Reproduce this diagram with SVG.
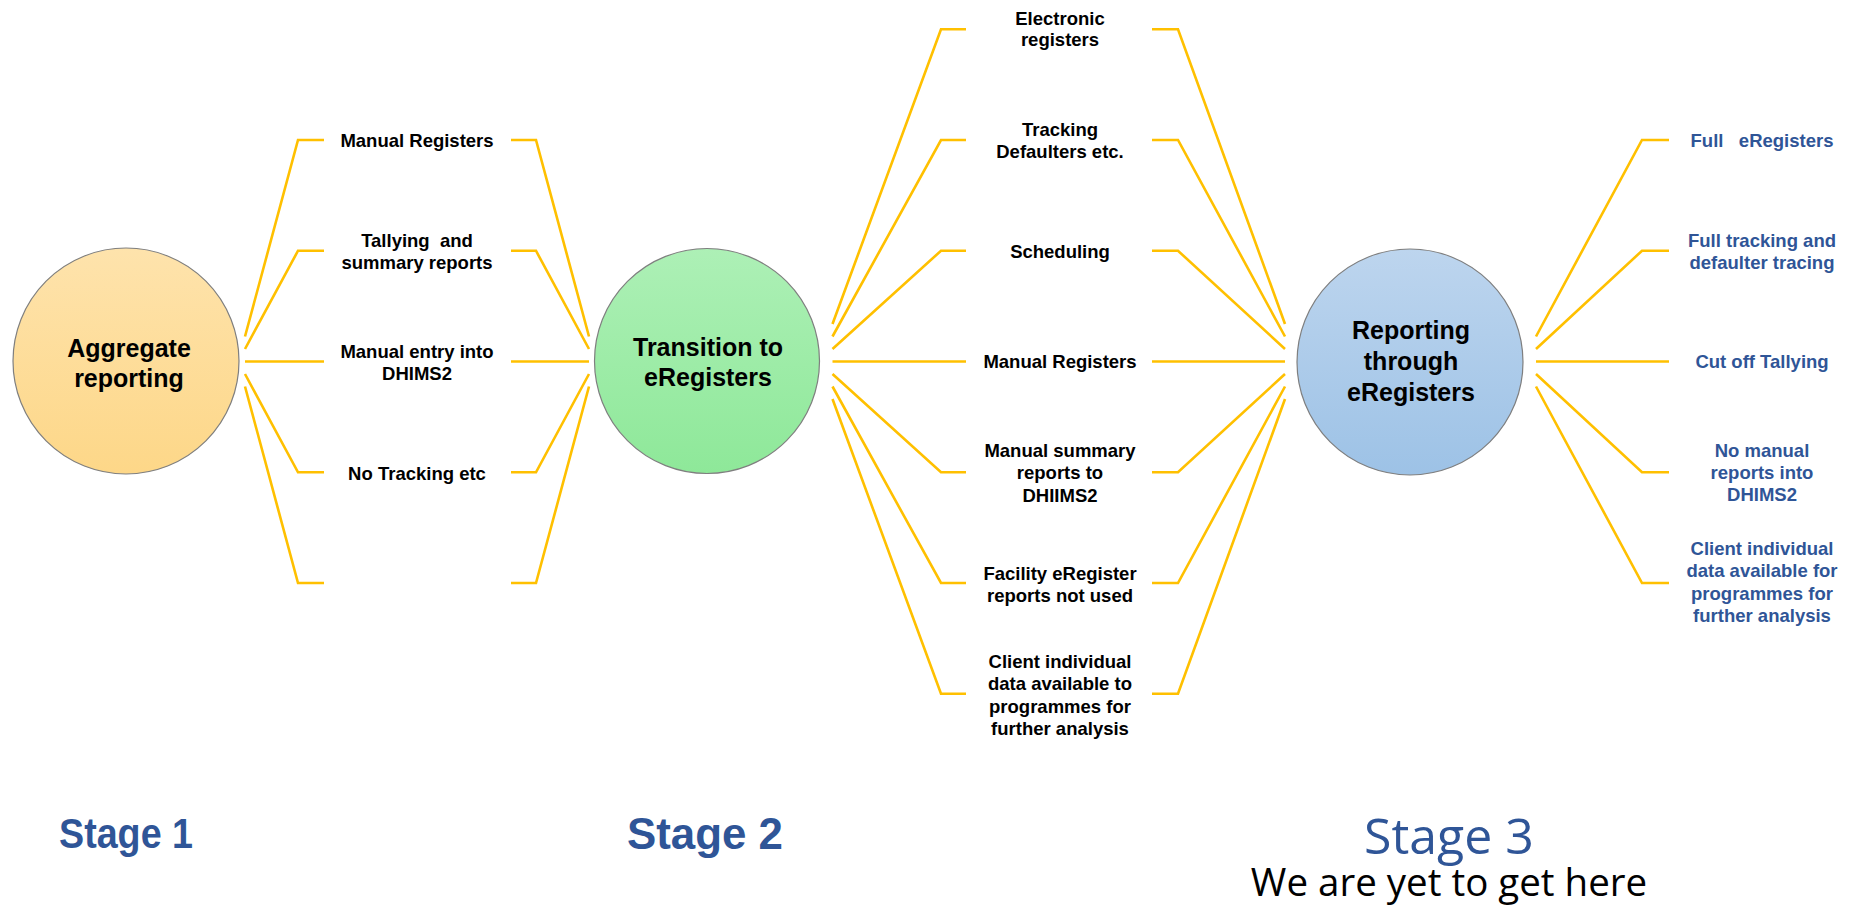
<svg xmlns="http://www.w3.org/2000/svg" width="1854" height="907" viewBox="0 0 1854 907">
<defs>
<linearGradient id="gOrange" x1="0" y1="0" x2="0" y2="1"><stop offset="0" stop-color="#FEE3AC"/><stop offset="1" stop-color="#FDD788"/></linearGradient>
<linearGradient id="gGreen" x1="0" y1="0" x2="0" y2="1"><stop offset="0" stop-color="#ADF0B6"/><stop offset="1" stop-color="#8EE899"/></linearGradient>
<linearGradient id="gBlue" x1="0" y1="0" x2="0" y2="1"><stop offset="0" stop-color="#BDD5EE"/><stop offset="1" stop-color="#9DC2E6"/></linearGradient>
<style>
.circ{stroke:#7F7F7F;stroke-width:1.2}
.ctext{font-family:"Liberation Sans",Arial,sans-serif;font-weight:bold;font-size:25px;fill:#000;text-anchor:middle}
.lbl{font-family:"Liberation Sans",Arial,sans-serif;font-weight:bold;font-size:18.5px;fill:#000;text-anchor:middle}
.lbl3{font-family:"Liberation Sans",Arial,sans-serif;font-weight:bold;font-size:18.5px;fill:#2F5597;text-anchor:middle}
.conn path{fill:none;stroke:#FFC000;stroke-width:2.6;stroke-linejoin:miter}
.stageB{font-family:"Liberation Sans",Arial,sans-serif;font-weight:bold;fill:#2F5597;text-anchor:middle}
.stage3{font-family:"Open Sans","DejaVu Sans",sans-serif;font-size:50px;fill:#2F5597;text-anchor:middle}
.yet{font-family:"Open Sans","DejaVu Sans",sans-serif;font-size:38.5px;fill:#000;text-anchor:middle}
</style>
</defs>
<rect width="1854" height="907" fill="#FFFFFF"/>

<g class="conn" id="connectors">
<!-- Stage 1 left -->
<path d="M245 336.5 L298 140 L324 140"/>
<path d="M245 349 L298 250.75 L324 250.75"/>
<path d="M245 361.5 L324 361.5"/>
<path d="M245 374 L298 472.25 L324 472.25"/>
<path d="M245 386.5 L298 583 L324 583"/>
<!-- Stage 1 right -->
<path d="M511 140 L536 140 L589 336.5"/>
<path d="M511 250.75 L536 250.75 L589 349"/>
<path d="M511 361.5 L589 361.5"/>
<path d="M511 472.25 L536 472.25 L589 374"/>
<path d="M511 583 L536 583 L589 386.5"/>
<!-- Stage 2 left -->
<path d="M832.5 324 L941 29.25 L966 29.25"/>
<path d="M832.5 336.5 L941 140 L966 140"/>
<path d="M832.5 349 L941 250.75 L966 250.75"/>
<path d="M832.5 361.5 L966 361.5"/>
<path d="M832.5 374 L941 472.25 L966 472.25"/>
<path d="M832.5 386.5 L941 583 L966 583"/>
<path d="M832.5 399 L941 693.75 L966 693.75"/>
<!-- Stage 2 right -->
<path d="M1152 29.25 L1178 29.25 L1285 324"/>
<path d="M1152 140 L1178 140 L1285 336.5"/>
<path d="M1152 250.75 L1178 250.75 L1285 349"/>
<path d="M1152 361.5 L1285 361.5"/>
<path d="M1152 472.25 L1178 472.25 L1285 374"/>
<path d="M1152 583 L1178 583 L1285 386.5"/>
<path d="M1152 693.75 L1178 693.75 L1285 399"/>
<!-- Stage 3 right -->
<path d="M1536 336.5 L1642 140 L1669 140"/>
<path d="M1536 349 L1642 250.75 L1669 250.75"/>
<path d="M1536 361.5 L1669 361.5"/>
<path d="M1536 374 L1642 472.25 L1669 472.25"/>
<path d="M1536 386.5 L1642 583 L1669 583"/>
</g>

<g id="node-aggregate">
<circle class="circ" cx="126" cy="361" r="113" fill="url(#gOrange)"/>
<text class="ctext" x="129" y="357">Aggregate</text>
<text class="ctext" x="129" y="387">reporting</text>
</g>
<g id="node-transition">
<circle class="circ" cx="707" cy="361" r="112.5" fill="url(#gGreen)"/>
<text class="ctext" x="708" y="356">Transition to</text>
<text class="ctext" x="708" y="386">eRegisters</text>
</g>
<g id="node-reporting">
<circle class="circ" cx="1410" cy="362" r="113" fill="url(#gBlue)"/>
<text class="ctext" x="1411" y="339">Reporting</text>
<text class="ctext" x="1411" y="370">through</text>
<text class="ctext" x="1411" y="401">eRegisters</text>
</g>

<g id="stage1-labels">
<text class="lbl" x="417" y="146.5">Manual Registers</text>
<text class="lbl" x="417" y="246.5" xml:space="preserve">Tallying  and</text>
<text class="lbl" x="417" y="268.5">summary reports</text>
<text class="lbl" x="417" y="357.5">Manual entry into</text>
<text class="lbl" x="417" y="379.5">DHIMS2</text>
<text class="lbl" x="417" y="480">No Tracking etc</text>
</g>

<g id="stage2-labels">
<text class="lbl" x="1060" y="24.5">Electronic</text>
<text class="lbl" x="1060" y="46">registers</text>
<text class="lbl" x="1060" y="135.5">Tracking</text>
<text class="lbl" x="1060" y="157.5">Defaulters etc.</text>
<text class="lbl" x="1060" y="257.5">Scheduling</text>
<text class="lbl" x="1060" y="368">Manual Registers</text>
<text class="lbl" x="1060" y="457">Manual summary</text>
<text class="lbl" x="1060" y="479">reports to</text>
<text class="lbl" x="1060" y="501.5">DHIIMS2</text>
<text class="lbl" x="1060" y="580">Facility eRegister</text>
<text class="lbl" x="1060" y="601.5">reports not used</text>
<text class="lbl" x="1060" y="668">Client individual</text>
<text class="lbl" x="1060" y="690">data available to</text>
<text class="lbl" x="1060" y="713">programmes for</text>
<text class="lbl" x="1060" y="735">further analysis</text>
</g>

<g id="stage3-labels">
<text class="lbl3" x="1762" y="146.5" xml:space="preserve">Full   eRegisters</text>
<text class="lbl3" x="1762" y="246.5">Full tracking and</text>
<text class="lbl3" x="1762" y="268.5">defaulter tracing</text>
<text class="lbl3" x="1762" y="368">Cut off Tallying</text>
<text class="lbl3" x="1762" y="456.5">No manual</text>
<text class="lbl3" x="1762" y="478.5">reports into</text>
<text class="lbl3" x="1762" y="501">DHIMS2</text>
<text class="lbl3" x="1762" y="555">Client individual</text>
<text class="lbl3" x="1762" y="577">data available for</text>
<text class="lbl3" x="1762" y="600">programmes for</text>
<text class="lbl3" x="1762" y="622">further analysis</text>
</g>

<g id="stage-titles">
<text class="stageB" x="126" y="848" font-size="42" textLength="134" lengthAdjust="spacingAndGlyphs">Stage 1</text>
<text class="stageB" x="705" y="849" font-size="45" textLength="156" lengthAdjust="spacingAndGlyphs">Stage 2</text>
<text class="stage3" x="1449" y="854">Stage 3</text>
<text class="yet" x="1449" y="896">We are yet to get here</text>
</g>
</svg>
